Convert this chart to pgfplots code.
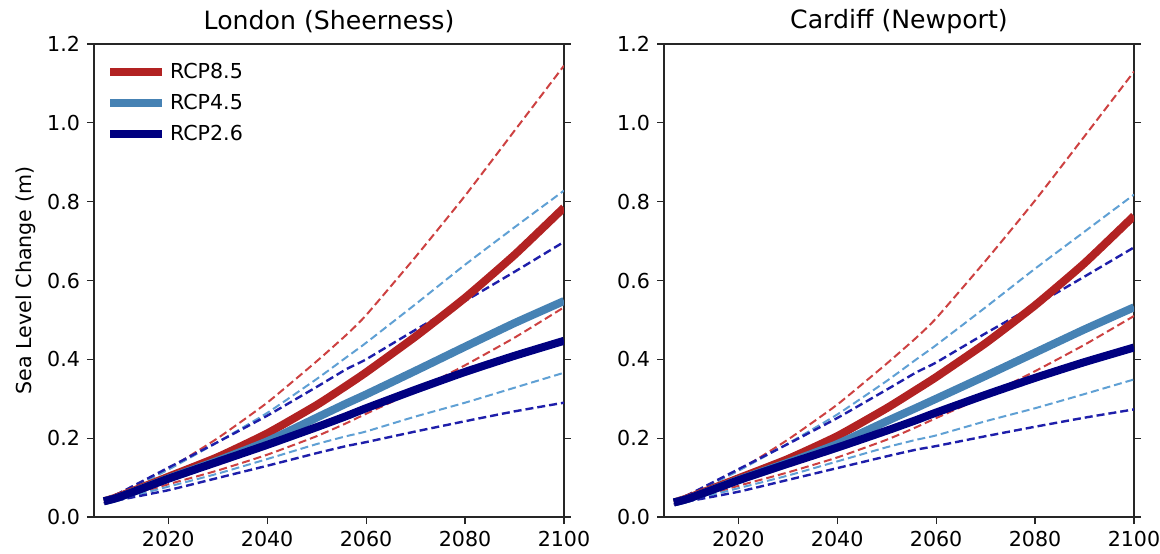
\documentclass[border=0pt]{standalone}
\usepackage{fontspec}
\setmainfont{DejaVu Sans}
\usepackage{pgfplots}
\pgfplotsset{compat=1.18}
\usepackage{pgfplotstable}

\definecolor{c85}{RGB}{178,34,34}
\definecolor{c45}{RGB}{70,130,180}
\definecolor{c26}{RGB}{0,0,128}
\definecolor{d85}{RGB}{205,65,65}
\definecolor{d45}{RGB}{95,160,212}
\definecolor{d26}{RGB}{30,30,170}

\pgfplotstableread{
year m85 u85 l85 m45 u45 l45 m26 u26 l26
2007 0.040 0.045 0.035 0.040 0.045 0.035 0.040 0.045 0.035
2010 0.052 0.060 0.045 0.050 0.058 0.044 0.050 0.060 0.043
2020 0.102 0.122 0.083 0.098 0.120 0.077 0.097 0.125 0.068
2030 0.152 0.200 0.118 0.143 0.190 0.110 0.140 0.190 0.099
2040 0.212 0.290 0.158 0.192 0.264 0.147 0.183 0.257 0.130
2050 0.284 0.395 0.205 0.252 0.350 0.185 0.228 0.330 0.162
2056 0.333 0.462 0.238 0.288 0.405 0.205 0.256 0.375 0.180
2060 0.367 0.512 0.262 0.311 0.442 0.217 0.276 0.400 0.190
2070 0.458 0.660 0.320 0.371 0.540 0.255 0.323 0.475 0.217
2080 0.556 0.815 0.385 0.432 0.640 0.290 0.368 0.548 0.243
2090 0.665 0.980 0.455 0.492 0.735 0.328 0.409 0.622 0.268
2100 0.785 1.145 0.532 0.548 0.828 0.366 0.447 0.698 0.290
}\london

\pgfplotstableread{
year m85 u85 l85 m45 u45 l45 m26 u26 l26
2007 0.037 0.042 0.032 0.037 0.042 0.032 0.037 0.042 0.032
2010 0.049 0.057 0.042 0.047 0.055 0.041 0.047 0.057 0.040
2020 0.098 0.118 0.079 0.094 0.117 0.073 0.093 0.121 0.064
2030 0.147 0.196 0.113 0.138 0.186 0.105 0.135 0.185 0.094
2040 0.205 0.285 0.151 0.185 0.260 0.141 0.176 0.251 0.124
2050 0.276 0.389 0.196 0.243 0.345 0.177 0.219 0.323 0.154
2056 0.323 0.455 0.228 0.277 0.400 0.196 0.246 0.367 0.171
2060 0.355 0.504 0.251 0.300 0.436 0.207 0.265 0.392 0.180
2070 0.441 0.650 0.307 0.358 0.532 0.243 0.310 0.466 0.205
2080 0.537 0.803 0.370 0.417 0.630 0.276 0.353 0.537 0.229
2090 0.644 0.966 0.437 0.476 0.724 0.312 0.393 0.610 0.252
2100 0.764 1.130 0.510 0.532 0.818 0.349 0.430 0.684 0.273
}\cardiff

\pgfplotsset{
  slr/.style={
    scale only axis, width=235pt, height=236.5pt,
    xmin=2005, xmax=2100, ymin=0, ymax=1.2,
    xtick={2020,2040,2060,2080,2100},
    ytick={0,0.2,0.4,0.6,0.8,1.0,1.2},
    /pgf/number format/assume math mode=true,
    yticklabel style={/pgf/number format/fixed, /pgf/number format/fixed zerofill, /pgf/number format/precision=1},
    xticklabel style={/pgf/number format/1000 sep={}},
    tick align=outside, xtick pos=lower, ytick pos=both, yticklabel pos=left,
    major tick length=3.5pt,
    axis line style={line width=0.6pt, black!85},
    every tick/.style={black!85, line width=0.6pt},
    tick label style={font=\fontsize{10.3}{12}\selectfont},
    title style={font=\fontsize{12.6}{15}\selectfont, at={(axis description cs:0.5,1)}, anchor=center, yshift=5pt},
    dsh/.style={line width=1pt, dash pattern=on 4pt off 2pt, smooth, tension=0.3},
    med/.style={line width=4pt, smooth, tension=0.3},
  }
}

\begin{document}
\begin{tikzpicture}
\path[use as bounding box] (0,0) rectangle (580pt,276.5pt);

\begin{axis}[slr, at={(47pt,18pt)}, anchor=south west,
  title={London (Sheerness)},
  ylabel={Sea Level Change (m)},
  ylabel style={font=\fontsize{10.3}{12}\selectfont, at={(axis description cs:-0.145,0.5)}, rotate=0, anchor=center},
  legend style={draw=none, fill=none, at={(axis description cs:0.012,0.978)}, anchor=north west,
    font=\fontsize{10.3}{12}\selectfont, row sep=2.4pt, nodes={inner sep=2pt}},
  legend cell align=left,
  legend image code/.code={\draw[#1] (0pt,0pt) -- (26pt,0pt);},
]
\addlegendimage{c85, line width=4pt}\addlegendentry{RCP8.5}
\addlegendimage{c45, line width=4pt}\addlegendentry{RCP4.5}
\addlegendimage{c26, line width=4pt}\addlegendentry{RCP2.6}
\addplot[d85, dsh, forget plot] table[x=year, y=u85] {\london};
\addplot[d85, dsh, forget plot] table[x=year, y=l85] {\london};
\addplot[d45, dsh, forget plot] table[x=year, y=u45] {\london};
\addplot[d45, dsh, forget plot] table[x=year, y=l45] {\london};
\addplot[d26, dsh, line width=1.2pt, forget plot] table[x=year, y=u26] {\london};
\addplot[d26, dsh, line width=1.2pt, forget plot] table[x=year, y=l26] {\london};
\addplot[c85, med, forget plot] table[x=year, y=m85] {\london};
\addplot[c45, med, forget plot] table[x=year, y=m45] {\london};
\addplot[c26, med, forget plot] table[x=year, y=m26] {\london};
\end{axis}

\begin{axis}[slr, at={(332pt,18pt)}, anchor=south west,
  title={Cardiff (Newport)},
]
\addplot[d85, dsh] table[x=year, y=u85] {\cardiff};
\addplot[d85, dsh] table[x=year, y=l85] {\cardiff};
\addplot[d45, dsh] table[x=year, y=u45] {\cardiff};
\addplot[d45, dsh] table[x=year, y=l45] {\cardiff};
\addplot[d26, dsh, line width=1.2pt] table[x=year, y=u26] {\cardiff};
\addplot[d26, dsh, line width=1.2pt] table[x=year, y=l26] {\cardiff};
\addplot[c85, med] table[x=year, y=m85] {\cardiff};
\addplot[c45, med] table[x=year, y=m45] {\cardiff};
\addplot[c26, med] table[x=year, y=m26] {\cardiff};
\end{axis}
\end{tikzpicture}
\end{document}
